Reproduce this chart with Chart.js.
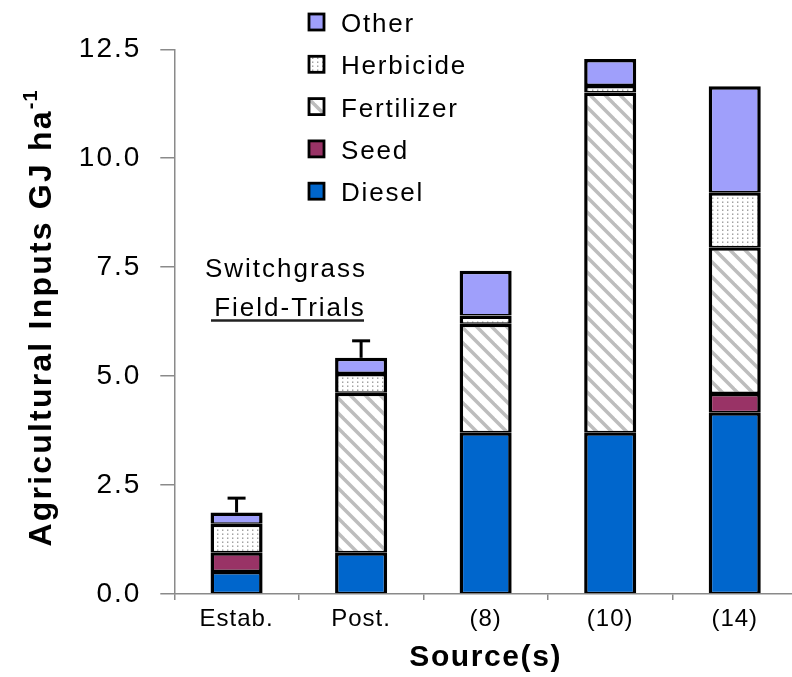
<!DOCTYPE html>
<html><head><meta charset="utf-8">
<script src="https://cdn.jsdelivr.net/npm/chart.js@4.4.1/dist/chart.umd.min.js"></script>
<style>
html,body{margin:0;padding:0;background:#fff;overflow:hidden;width:792px;height:677px}
#wrap{position:relative;width:800px;height:677px}
</style>
</head><body>
<div id="wrap"><canvas id="c" width="800" height="677"></canvas></div>
<script>
// ---- data ----
const categories = ['Estab.', 'Post.', '(8)', '(10)', '(14)'];
const diesel     = [0.53, 0.96, 3.71, 3.71, 4.17];
const seed       = [0.43, null, null, null, 0.44];
const fertilizer = [null, 3.66, 2.49, 7.80, 3.35];
const herbicide  = [0.65, 0.45, 0.19, 0.17, 1.26];
const other      = [0.26, 0.35, 1.03, 0.60, 2.43];
const errorPlus  = [0.33, 0.39, null, null, null];
const yTicks     = [0, 2.5, 5, 7.5, 10, 12.5];
const seriesNames = ['Diesel', 'Seed', 'Fertilizer', 'Herbicide', 'Other'];
const yTitle = 'Agricultural Inputs GJ ha';
const yTitleSup = '-1';
const xTitle = 'Source(s)';
const noteLines = ['Switchgrass', 'Field-Trials'];

const FONT = "'Liberation Sans', Arial, Helvetica, sans-serif";
const canvas = document.getElementById('c');
const mainCtx = canvas.getContext('2d');

function makeHatch() {
  const s = 15, c = document.createElement('canvas');
  c.width = s; c.height = s;
  const g = c.getContext('2d');
  g.fillStyle = '#ffffff'; g.fillRect(0, 0, s, s);
  g.strokeStyle = '#bdbdbd'; g.lineWidth = 3.5;
  for (const o of [-s, 0, s]) {
    g.beginPath(); g.moveTo(o - 2, -2); g.lineTo(o + s + 2, s + 2); g.stroke();
  }
  return mainCtx.createPattern(c, 'repeat');
}
function makeDots() {
  const c = document.createElement('canvas');
  c.width = 5; c.height = 4;
  const g = c.getContext('2d');
  g.fillStyle = '#ffffff'; g.fillRect(0, 0, 5, 4);
  g.fillStyle = '#9a9a9a'; g.fillRect(2, 1.5, 1.4, 1.4);
  return mainCtx.createPattern(c, 'repeat');
}
const hatch = makeHatch();
const dots = makeDots();

const fills = [ '#0066cc', '#993366', hatch, dots, '#9f9ffb' ];
const seriesData = [diesel, seed, fertilizer, herbicide, other];

const datasets = seriesNames.map((n, i) => ({
  label: n,
  data: seriesData[i],
  backgroundColor: fills[i],
  borderColor: '#000000',
  borderWidth: {top: 3.5, left: 3.5, right: 3.5, bottom: 1.5},
  borderSkipped: false,
  inflateAmount: 0,
  categoryPercentage: 1.0,
  barPercentage: 0.418,
  stack: 's'
}));

function patchSpacing(axis, map) {
  const ctx = axis.ctx;
  for (const fn in map) {
    if (axis['_patched_' + fn]) continue;
    const orig = axis[fn];
    axis[fn] = function(...a) {
      ctx.save();
      ctx.letterSpacing = map[fn];
      const r = orig.apply(this, a);
      ctx.restore();
      return r;
    };
    axis['_patched_' + fn] = true;
  }
}

const errorBars = {
  id: 'errorBars',
  afterDatasetsDraw(chart) {
    const ctx = chart.ctx;
    const ys = chart.scales.y;
    const lastMeta = chart.getDatasetMeta(chart.data.datasets.length - 1);
    ctx.save();
    ctx.strokeStyle = '#000'; ctx.lineWidth = 3; ctx.lineCap = 'butt';
    errorPlus.forEach((e, i) => {
      if (e == null) return;
      let total = 0;
      seriesData.forEach(s => { total += (s[i] || 0); });
      const x = lastMeta.data[i].x;
      const y0 = ys.getPixelForValue(total);
      const y1 = ys.getPixelForValue(total + e);
      ctx.beginPath(); ctx.moveTo(x, y0); ctx.lineTo(x, y1); ctx.stroke();
      ctx.beginPath(); ctx.moveTo(x - 9, y1); ctx.lineTo(x + 9, y1); ctx.stroke();
    });
    ctx.restore();
  }
};

const extras = {
  id: 'extras',
  afterDraw(chart) {
    const ctx = chart.ctx;
    // legend
    ctx.save();
    const ds = chart.data.datasets.slice().reverse();
    ds.forEach((d, k) => {
      const cy = 22 + k * 42.3;
      ctx.fillStyle = d.backgroundColor;
      ctx.fillRect(309, cy - 8, 15, 16);
      ctx.strokeStyle = '#000'; ctx.lineWidth = 2.8;
      ctx.strokeRect(309, cy - 8, 15, 16);
      ctx.fillStyle = '#000';
      ctx.font = '26px ' + FONT;
      ctx.letterSpacing = '1.8px';
      ctx.textAlign = 'left'; ctx.textBaseline = 'alphabetic';
      ctx.fillText(d.label, 341, cy + 10);
    });
    ctx.restore();

    // annotation
    ctx.save();
    ctx.fillStyle = '#000';
    ctx.font = '26px ' + FONT;
    ctx.letterSpacing = '2px';
    ctx.textAlign = 'center'; ctx.textBaseline = 'alphabetic';
    ctx.fillText(noteLines[0], 286, 277);
    ctx.fillText(noteLines[1], 290, 316);
    ctx.strokeStyle = '#222'; ctx.lineWidth = 2.4;
    ctx.beginPath(); ctx.moveTo(211, 320.5); ctx.lineTo(364, 320.5); ctx.stroke();
    ctx.restore();

    // y title with superscript
    ctx.save();
    ctx.translate(51, 318);
    ctx.rotate(-Math.PI / 2);
    ctx.fillStyle = '#000';
    ctx.font = 'bold 32px ' + FONT;
    ctx.letterSpacing = '2.2px';
    const w = ctx.measureText(yTitle).width;
    ctx.font = 'bold 20px ' + FONT;
    ctx.letterSpacing = '1px';
    const ws = ctx.measureText(yTitleSup).width;
    const start = -(w + ws) / 2;
    ctx.textAlign = 'left'; ctx.textBaseline = 'alphabetic';
    ctx.font = 'bold 32px ' + FONT;
    ctx.letterSpacing = '2.2px';
    ctx.fillText(yTitle, start, 0);
    ctx.font = 'bold 20px ' + FONT;
    ctx.letterSpacing = '1px';
    ctx.fillText(yTitleSup, start + w, -14);
    ctx.restore();
  }
};

new Chart(canvas, {
  type: 'bar',
  data: { labels: categories, datasets },
  options: {
    responsive: false,
    animation: false,
    devicePixelRatio: 1,
    layout: { padding: { left: 0, right: 3, top: 49.3, bottom: 0 } },
    plugins: { legend: { display: false }, tooltip: { enabled: false }, title: { display: false } },
    scales: {
      x: {
        stacked: true,
        offset: true,
        grid: { display: true, offset: true, drawOnChartArea: false, drawTicks: true, tickLength: 6, color: '#8a8a8a', lineWidth: 1.5 },
        border: { display: true, color: '#8a8a8a', width: 1.5 },
        ticks: { color: '#000', font: { family: FONT, size: 24 }, padding: 5, maxRotation: 0, autoSkip: false },
        title: { display: true, text: xTitle, color: '#000', font: { family: FONT, size: 30, weight: 'bold' }, padding: { top: 0, bottom: 1 } },
        afterFit(scale) { scale.height = 83; },
        afterUpdate(axis) { patchSpacing(axis, { drawLabels: '1px', drawTitle: '1.6px' }); }
      },
      y: {
        stacked: true,
        min: 0, max: 12.5,
        afterBuildTicks(axis) { axis.ticks = yTicks.map(v => ({ value: v })); },
        grid: { display: true, drawOnChartArea: false, drawTicks: true, tickLength: 14, color: '#8a8a8a', lineWidth: 1.5 },
        border: { display: true, color: '#8a8a8a', width: 1.5 },
        ticks: { color: '#000', font: { family: FONT, size: 28 }, padding: 19, callback: v => Number(v).toFixed(1) },
        afterFit(scale) { scale.width = 174.3; },
        afterUpdate(axis) { patchSpacing(axis, { drawLabels: '2px' }); }
      }
    }
  },
  plugins: [errorBars, extras]
});
</script>
</body></html>
